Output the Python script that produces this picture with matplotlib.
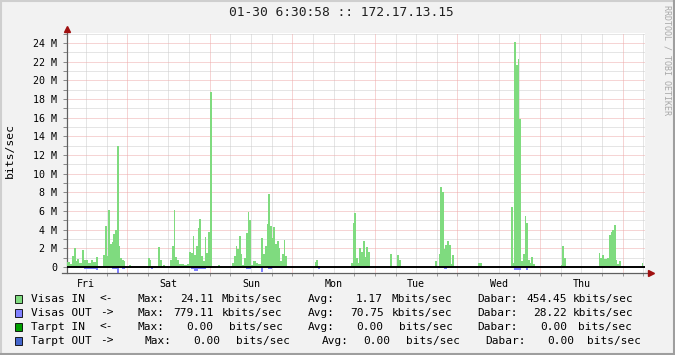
import matplotlib.pyplot as plt
from matplotlib.lines import Line2D
from matplotlib.patches import Rectangle

# half-hour slots counted from Fri 06:30, traffic in Mbit/s
in_slot = [0, 1, 2, 3, 4, 5, 6, 7, 8, 9, 10, 11, 12, 13, 14, 15, 16, 17, 18, 19, 20,
           21, 22, 23, 24, 25, 26, 27, 28, 29, 30, 31, 32, 33, 34, 36,
           47, 48, 49, 53, 54, 56, 60, 61, 62, 63, 64, 65, 66, 67, 68, 69, 70,
           71, 72, 73, 74, 75, 76, 77, 78, 79, 80, 81, 82, 83, 88, 89,
           96, 97, 98, 99, 100, 101, 102, 103, 104, 105, 106, 107, 108, 109, 110,
           111, 112, 113, 114, 115, 116, 117, 118, 119, 120, 121, 122, 123, 124,
           125, 126, 127, 128, 144, 145, 146,
           165, 166, 167, 168, 169, 170, 171, 172, 173, 174, 175,
           188, 191, 192, 193, 194,
           214, 216, 217, 218, 219, 220, 221, 222, 223, 224, 239, 240,
           258, 259, 260, 261, 262, 263, 264, 265, 266, 267, 268, 269, 270, 271,
           287, 288, 289, 290,
           309, 310, 311, 312, 313, 314, 315, 316, 317, 318, 319, 320, 321, 334]
in_mbps = [0.5, 0.5, 0.3, 1.2, 2.0, 0.6, 0.9, 0.4, 0.4, 1.8, 0.8, 0.8, 0.45, 0.45, 0.75, 0.5, 0.5, 1.1, 0.1, 0.1, 0.1,
           1.25, 4.4, 1.2, 6.1, 2.5, 2.7, 3.5, 4.0, 13.0, 2.25, 1.0, 0.8, 0.6, 0.1, 0.2,
           1.0, 0.8, 0.15, 2.1, 0.75, 0.2, 0.8, 2.2, 6.1, 1.1, 0.8, 0.35, 0.35, 0.3, 0.2, 0.2, 0.35,
           1.6, 1.45, 3.3, 1.25, 2.25, 4.2, 5.1, 1.2, 0.65, 3.2, 1.5, 3.7, 18.8, 0.2, 0.1,
           0.45, 1.2, 2.25, 1.9, 3.3, 1.35, 0.2, 1.0, 3.6, 5.9, 5.0, 0.2, 0.65, 0.65, 0.45,
           0.3, 0.3, 3.1, 1.35, 2.25, 4.6, 7.8, 4.4, 3.1, 4.3, 2.5, 2.8, 2.0, 0.65,
           1.35, 2.9, 1.2, 0.1, 0.55, 0.75, 0.1,
           0.45, 4.75, 5.8, 1.0, 0.4, 2.0, 1.6, 2.8, 1.1, 2.1, 1.6,
           1.4, 0.15, 1.3, 0.8, 0.15,
           0.65, 1.4, 8.6, 8.0, 1.9, 2.4, 2.8, 2.4, 0.3, 1.25, 0.4, 0.4,
           6.4, 0.45, 24.1, 21.6, 22.3, 15.9, 0.65, 1.35, 5.5, 4.7, 0.8, 0.45, 1.1, 0.3,
           0.2, 2.3, 1.0, 0.1,
           1.45, 1.0, 1.25, 0.9, 0.9, 1.0, 3.4, 3.8, 4.0, 4.5, 0.8, 0.3, 0.65, 0.45]

out_slot = [0, 5, 6, 7, 8, 9, 10, 11, 12, 13, 14, 15, 16, 17, 24, 25, 26, 27, 28, 29, 31, 32, 33,
            47, 49, 64, 72, 73, 74, 75, 76, 77, 78, 79, 80, 81, 82, 83,
            99, 104, 105, 106, 107, 113, 117, 118, 119, 120, 121, 122, 123, 124, 125, 126, 127,
            146, 166, 170, 171, 172, 173, 174, 216, 217, 218, 219, 220, 221,
            260, 261, 262, 263, 266, 267, 268, 315, 316]
out_mbps = [0.15, 0.15, 0.15, 0.15, 0.15, 0.15, 0.2, 0.2, 0.2, 0.2, 0.2, 0.2, 0.2, 0.3, 0.1, 0.1, 0.2, 0.2, 0.2, 0.78, 0.15, 0.25, 0.25,
            0.1, 0.2, 0.1, 0.25, 0.25, 0.45, 0.45, 0.2, 0.2, 0.2, 0.25, 0.25, 0.15, 0.15, 0.15,
            0.15, 0.25, 0.25, 0.25, 0.1, 0.5, 0.25, 0.25, 0.15, 0.1, 0.1, 0.1, 0.1, 0.1, 0.15, 0.15, 0.15,
            0.25, 0.15, 0.15, 0.15, 0.15, 0.15, 0.15, 0.15, 0.15, 0.15, 0.25, 0.25, 0.15,
            0.3, 0.3, 0.3, 0.3, 0.15, 0.35, 0.15, 0.15, 0.15]

days = ['Fri', 'Sat', 'Sun', 'Mon', 'Tue', 'Wed', 'Thu']
y_ticks = [0, 2, 4, 6, 8, 10, 12, 14, 16, 18, 20, 22, 24]
y_labels = ['0', '2 M', '4 M', '6 M', '8 M', '10 M', '12 M', '14 M', '16 M', '18 M', '20 M', '22 M', '24 M']
title = '01-30 6:30:58 :: 172.17.13.15'

names = ['Visas IN', 'Visas OUT', 'Tarpt IN', 'Tarpt OUT']
arrows = ['<-', '->', '<-', '->']
max_vals = ['24.11', '779.11', '0.00', '0.00']
max_units = ['Mbits/sec', 'kbits/sec', 'bits/sec', 'bits/sec']
avg_vals = ['1.17', '70.75', '0.00', '0.00']
avg_units = ['Mbits/sec', 'kbits/sec', 'bits/sec', 'bits/sec']
now_vals = ['454.45', '28.22', '0.00', '0.00']
now_units = ['kbits/sec', 'kbits/sec', 'bits/sec', 'bits/sec']
box_colors = ['#7fdb7f', '#8080ff', '#00a000', '#4466cc']

W, H = 675, 355
mono = 'DejaVu Sans Mono'
fig = plt.figure(figsize=(W / 100, H / 100), dpi=100, facecolor='#f2f2f2')
ax = fig.add_axes([67 / W, 1 - 273 / H, 578 / W, 240 / H], facecolor='white')

# hours since Fri 00:00
in_h = [6.5 + 0.5 * s for s in in_slot]
out_h = [6.5 + 0.5 * s for s in out_slot]
ax.bar(in_h, in_mbps, width=0.5, align='edge', color='#7fdb7f', linewidth=0, zorder=3)
ax.bar(out_h, [-v for v in out_mbps], width=0.5, align='edge', color='#8080ff', linewidth=0, zorder=3)

ax.set_xlim(6.5, 174.5)
ax.set_ylim(-0.643, 25.07)

# rrdtool style dotted grid, minor grey / major red
dots = (0, (1, 1))
for y in range(1, 26, 2):
    ax.axhline(y, color='#cccccc', lw=0.72, ls=dots, zorder=1)
for y in y_ticks[1:]:
    ax.axhline(y, color='#efaaaa', lw=0.72, ls=dots, zorder=2)
for h in range(12, 175, 6):
    if h % 24:
        ax.axvline(h, color='#cccccc', lw=0.72, ls=dots, zorder=1)
for h in range(24, 175, 24):
    ax.axvline(h, color='#efaaaa', lw=0.72, ls=dots, zorder=2)
ax.axhline(0, color='black', lw=1.4, zorder=4)

for s in ['top', 'right', 'bottom']:
    ax.spines[s].set_visible(False)
ax.spines['left'].set_color('#606060')
ax.spines['left'].set_linewidth(0.9)

ax.set_yticks(y_ticks, y_labels, fontfamily=mono, fontsize=7.2)
ax.set_yticks(range(1, 26, 2), minor=True)
ax.tick_params(axis='y', which='both', length=3, width=0.7, color='#888888', pad=4)
ax.set_xticks([12 + 24 * i for i in range(7)], days, fontfamily=mono, fontsize=7.2)
ax.set_xticks(range(12, 175, 6), minor=True)
ax.tick_params(axis='x', which='major', length=0, pad=4)
ax.tick_params(axis='x', which='minor', length=2, width=0.7, color='#999999')

# x axis line and arrows
fig.add_artist(Line2D([62 / W, 648 / W], [1 - 273 / H] * 2, color='#606060', lw=0.9))
fig.add_artist(Line2D([651 / W], [1 - 273 / H], marker='>', color='#a01010', markersize=4, ls='none'))
fig.add_artist(Line2D([67 / W], [1 - 29 / H], marker='^', color='#a01010', markersize=4, ls='none'))

fig.text(341 / W, 1 - 13 / H, title, ha='center', va='center', fontfamily=mono, fontsize=9.3, color='#202020')
fig.text(10 / W, 1 - 150 / H, 'bits/sec', rotation=90, ha='center', va='center', fontfamily=mono, fontsize=8.2)
fig.text(667 / W, 1 - 60 / H, 'RRDTOOL / TOBI OETIKER', rotation=-90, ha='center', va='center',
         fontfamily=mono, fontsize=6, color='#a8a8a8')

# legend, one row per data source
row_y = [299, 313, 327, 341]
col_x = [
    [31, 100, 137.3, 180.0, 221.7, 307.3, 356.0, 391.7, 477.7, 526.7, 572.7],
    [31, 100, 137.3, 173.3, 221.7, 307.3, 350.0, 391.7, 477.7, 533.3, 572.7],
    [31, 100, 137.3, 186.7, 228.7, 307.3, 356.7, 399.0, 477.7, 540.7, 578.3],
    [31, 100, 144.3, 193.3, 235.7, 321.7, 363.3, 405.7, 485.0, 547.3, 586.7],
]
for i in range(4):
    y = row_y[i]
    fig.add_artist(Rectangle((15 / W, 1 - (y + 3.8) / H), 7.3 / W, 7.6 / H,
                             facecolor=box_colors[i], edgecolor='black', lw=0.6))
    tokens = [names[i], arrows[i], 'Max:', max_vals[i], max_units[i], 'Avg:', avg_vals[i],
              avg_units[i], 'Dabar:', now_vals[i], now_units[i]]
    for x, t in zip(col_x[i], tokens):
        fig.text(x / W, 1 - y / H, t, ha='left', va='center', fontfamily=mono, fontsize=8.0, color='black')

# 3d-ish canvas border
fig.add_artist(Line2D([0, 1], [1 - 1 / H] * 2, color='#cfcfcf', lw=1.5))
fig.add_artist(Line2D([1 / W] * 2, [0, 1], color='#cfcfcf', lw=1.5))
fig.add_artist(Line2D([0, 1], [1 / H] * 2, color='#9e9e9e', lw=1.5))
fig.add_artist(Line2D([1 - 1 / W] * 2, [0, 1], color='#9e9e9e', lw=1.5))

fig.savefig('out.png', dpi=100, facecolor=fig.get_facecolor())
